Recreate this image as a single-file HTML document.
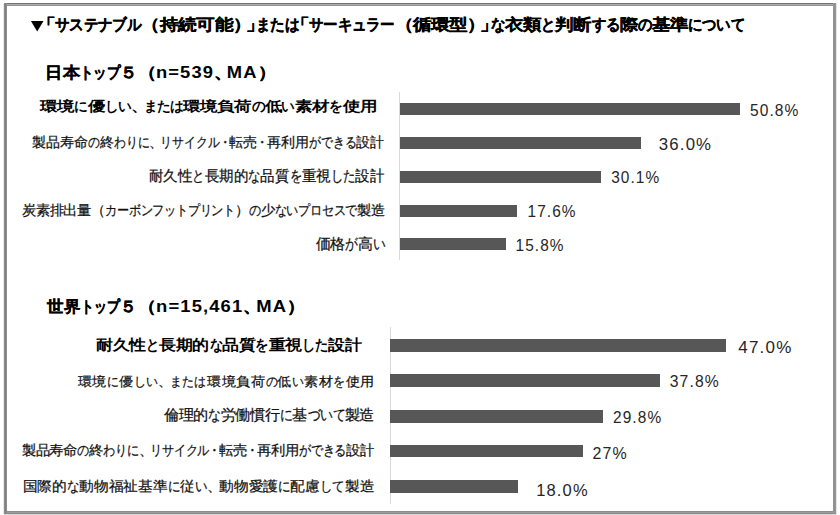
<!DOCTYPE html>
<html lang="ja">
<head>
<meta charset="utf-8">
<style>
html,body{margin:0;padding:0;background:#fff;}
body{width:840px;height:515px;overflow:hidden;position:relative;font-family:"Liberation Sans",sans-serif;}
.frame{position:absolute;left:4px;top:3px;width:832px;height:511px;box-sizing:border-box;border:3px solid #8e8e8e;}
.t{position:absolute;left:0;top:0;white-space:nowrap;line-height:1;transform-origin:0 0;}
.r{color:#111;-webkit-text-stroke:0.25px #111;}
.b{font-weight:bold;color:#000;}
#title_0,#title_1,#title_2,#h1_0,#h1_1,#h2_0,#h2_1{-webkit-text-stroke:0.3px #000;}
#h1_1 .l,#h2_1 .l{-webkit-text-stroke:0;letter-spacing:0.06em;}
.v{color:#262626;letter-spacing:0.07em;}
.k{display:inline-block;transform:scaleX(0.850);transform-origin:0 50%;}
.n{display:inline-block;}
.bar{position:absolute;background:#575757;}
.px{position:absolute;}
.ax{position:absolute;width:1px;background:#d9d9d9;}
svg{position:absolute;left:0;top:0;}
</style>
</head>
<body>
<div class="px" style="left:4px;top:3px;width:832px;height:1px;background:#727272"></div>
<div class="px" style="left:4px;top:4px;width:832px;height:1px;background:#afafaf"></div>
<div class="px" style="left:4px;top:5px;width:832px;height:1px;background:#919191"></div>
<div class="px" style="left:4px;top:511px;width:832px;height:1px;background:#8c8c8c"></div>
<div class="px" style="left:4px;top:512px;width:832px;height:1px;background:#9c9c9c"></div>
<div class="px" style="left:4px;top:513px;width:832px;height:1px;background:#8a8a8a"></div>
<div class="px" style="left:4px;top:514px;width:832px;height:1px;background:#d8d8d8"></div>
<div class="px" style="left:3px;top:4px;width:1px;height:510px;background:#e8e8e8"></div>
<div class="px" style="left:4px;top:3px;width:1px;height:511px;background:#8c8c8c"></div>
<div class="px" style="left:5px;top:3px;width:1px;height:511px;background:#808080"></div>
<div class="px" style="left:6px;top:3px;width:1px;height:511px;background:#8e8e8e"></div>
<div class="px" style="left:833px;top:3px;width:1px;height:511px;background:#979797"></div>
<div class="px" style="left:834px;top:3px;width:1px;height:511px;background:#8f8f8f"></div>
<div class="px" style="left:835px;top:3px;width:1px;height:511px;background:#979797"></div>
<div class="px" style="left:836px;top:3px;width:1px;height:512px;background:#e4e4e4"></div>
<svg width="840" height="515"><polygon points="30.9,20.9 43.5,20.9 37.2,31.5" fill="#000"/></svg>
<div class="ax" style="left:399px;top:92px;height:168px;"></div>
<div class="bar" style="left:400px;top:103px;width:340px;height:12px;"></div>
<div class="bar" style="left:400px;top:136.5px;width:241px;height:12px;"></div>
<div class="bar" style="left:400px;top:170.5px;width:201px;height:12px;"></div>
<div class="bar" style="left:400px;top:204.5px;width:117px;height:12px;"></div>
<div class="bar" style="left:400px;top:238px;width:105.5px;height:12px;"></div>
<div class="ax" style="left:390px;top:327px;height:177px;"></div>
<div class="bar" style="left:390px;top:339px;width:336px;height:13px;"></div>
<div class="bar" style="left:390px;top:374px;width:270px;height:13px;"></div>
<div class="bar" style="left:390px;top:410px;width:213px;height:13px;"></div>
<div class="bar" style="left:390px;top:445px;width:193px;height:12px;"></div>
<div class="bar" style="left:390px;top:480px;width:128px;height:13px;"></div>
<div class="t b" id="title_0" style="font-size:17px;transform:translate(45.44px,17.43px) scale(1.0794,0.9254);"><span class="n" style="margin-left:-7.65px">「</span><span class="k" style="margin-right:-22.44px;transform:scaleX(0.780)">サステナブル</span><span class="f">（</span><span class="j">持続可能</span><span class="n" style="margin-right:-5.10px">）</span><span class="n" style="margin-right:-7.65px">」</span><span class="k" style="margin-right:-11.22px;transform:scaleX(0.780)">または</span></div>
<div class="t b" id="title_1" style="font-size:17px;transform:translate(299.56px,17.43px) scale(1.0701,0.9254);"><span class="n" style="margin-left:-7.65px">「</span><span class="k" style="margin-right:-22.44px;transform:scaleX(0.780)">サーキュラー</span><span class="f">（</span><span class="j">循環型</span><span class="n" style="margin-right:-5.10px">）</span><span class="n" style="margin-right:-7.65px">」</span></div>
<div class="t b" id="title_2" style="font-size:17px;transform:translate(490.80px,17.43px) scale(1.0665,0.9254);"><span class="k" style="margin-right:-3.74px;transform:scaleX(0.780)">な</span><span class="j">衣類</span><span class="k" style="margin-right:-3.74px;transform:scaleX(0.780)">と</span><span class="j">判断</span><span class="k" style="margin-right:-7.48px;transform:scaleX(0.780)">する</span><span class="j">際</span><span class="k" style="margin-right:-3.74px;transform:scaleX(0.780)">の</span><span class="j">基準</span><span class="k" style="margin-right:-14.96px;transform:scaleX(0.780)">について</span></div>
<div class="t b" id="h1_0" style="font-size:17px;transform:translate(45.43px,65.10px) scale(1.0100,0.9397);"><span class="j">日本</span><span class="k" style="margin-right:-11.22px;transform:scaleX(0.780)">トップ</span><span class="f">５</span></div>
<div class="t b" id="h1_1" style="font-size:17px;transform:translate(137.67px,65.10px) scale(1.0788,0.9397);"><span class="f">（</span><span class="l">n=539</span><span class="n" style="margin-right:-5.10px">、</span><span class="l">MA</span><span class="f">）</span></div>
<div class="t b" id="h2_0" style="font-size:17px;transform:translate(47.25px,298.94px) scale(0.9891,0.9613);"><span class="j">世界</span><span class="k" style="margin-right:-11.22px;transform:scaleX(0.780)">トップ</span><span class="f">５</span></div>
<div class="t b" id="h2_1" style="font-size:17px;transform:translate(137.62px,298.94px) scale(1.0841,0.9613);"><span class="f">（</span><span class="l">n=15,461</span><span class="n" style="margin-right:-5.10px">、</span><span class="l">MA</span><span class="f">）</span></div>
<div class="t b" id="a1_0" style="font-size:15px;transform:translate(40.28px,98.71px) scale(1.1375,0.9115);"><span class="j">環境</span><span class="k" style="margin-right:-3.30px;transform:scaleX(0.780)">に</span><span class="j">優</span><span class="k" style="margin-right:-6.60px;transform:scaleX(0.780)">しい</span><span class="n" style="margin-right:-4.50px">、</span><span class="k" style="margin-right:-9.90px;transform:scaleX(0.780)">または</span><span class="j">環境負荷</span><span class="k" style="margin-right:-3.30px;transform:scaleX(0.780)">の</span><span class="j">低</span><span class="k" style="margin-right:-3.30px;transform:scaleX(0.780)">い</span><span class="j">素材</span><span class="k" style="margin-right:-3.30px;transform:scaleX(0.780)">を</span><span class="j">使用</span></div>
<div class="t r" id="a2_0" style="font-size:15px;transform:translate(31.87px,134.57px) scale(0.9307,0.9310);"><span class="j">製品寿命</span><span class="k" style="margin-right:-2.25px;transform:scaleX(0.850)">の</span><span class="j">終</span><span class="k" style="margin-right:-6.75px;transform:scaleX(0.850)">わりに</span><span class="n" style="margin-right:-3.00px">、</span><span class="k" style="margin-right:-11.25px;transform:scaleX(0.850)">リサイクル</span><span class="n" style="margin-left:-2.25px;margin-right:-2.25px">・</span><span class="j">転売</span><span class="n" style="margin-left:-2.25px;margin-right:-2.25px">・</span><span class="j">再利用</span><span class="k" style="margin-right:-9.00px;transform:scaleX(0.850)">ができる</span><span class="j">設計</span></div>
<div class="t r" id="a3_0" style="font-size:15px;transform:translate(148.88px,167.90px) scale(0.9662,1.0000);"><span class="j">耐久性</span><span class="k" style="margin-right:-2.25px;transform:scaleX(0.850)">と</span><span class="j">長期的</span><span class="k" style="margin-right:-2.25px;transform:scaleX(0.850)">な</span><span class="j">品質</span><span class="k" style="margin-right:-2.25px;transform:scaleX(0.850)">を</span><span class="j">重視</span><span class="k" style="margin-right:-4.50px;transform:scaleX(0.850)">した</span><span class="j">設計</span></div>
<div class="t r" id="a4_0" style="font-size:15px;transform:translate(21.80px,203.65px) scale(0.9259,0.9067);"><span class="j">炭素排出量</span><span class="f">（</span><span class="k" style="margin-right:-24.75px;transform:scaleX(0.850)">カーボンフットプリント</span><span class="f">）</span><span class="k" style="margin-right:-2.25px;transform:scaleX(0.850)">の</span><span class="j">少</span><span class="k" style="margin-right:-15.75px;transform:scaleX(0.850)">ないプロセスで</span><span class="j">製造</span></div>
<div class="t r" id="a5_0" style="font-size:15px;transform:translate(315.70px,236.15px) scale(0.9808,0.9825);"><span class="j">価格</span><span class="k" style="margin-right:-2.25px;transform:scaleX(0.850)">が</span><span class="j">高</span><span class="k" style="margin-right:-2.25px;transform:scaleX(0.850)">い</span></div>
<div class="t v" id="p1_0" style="font-size:15px;transform:translate(749.92px,102.53px) scale(1.0374,1.0476);"><span class="l">50.8%</span></div>
<div class="t v" id="p2_0" style="font-size:16px;transform:translate(658.81px,135.88px) scale(1.0474,1.0870);"><span class="l">36.0%</span></div>
<div class="t v" id="p3_0" style="font-size:15px;transform:translate(611.13px,168.97px) scale(1.0264,1.0857);"><span class="l">30.1%</span></div>
<div class="t v" id="p4_0" style="font-size:15px;transform:translate(527.52px,202.29px) scale(1.0267,1.1429);"><span class="l">17.6%</span></div>
<div class="t v" id="p5_0" style="font-size:15px;transform:translate(515.52px,236.86px) scale(1.0267,1.0952);"><span class="l">15.8%</span></div>
<div class="t b" id="c1_0" style="font-size:15px;transform:translate(95.84px,336.75px) scale(1.1146,0.9862);"><span class="j">耐久性</span><span class="k" style="margin-right:-3.30px;transform:scaleX(0.780)">と</span><span class="j">長期的</span><span class="k" style="margin-right:-3.30px;transform:scaleX(0.780)">な</span><span class="j">品質</span><span class="k" style="margin-right:-3.30px;transform:scaleX(0.780)">を</span><span class="j">重視</span><span class="k" style="margin-right:-6.60px;transform:scaleX(0.780)">した</span><span class="j">設計</span></div>
<div class="t r" id="c2_0" style="font-size:15px;transform:translate(77.90px,374.57px) scale(0.9674,0.8949);"><span class="j">環境</span><span class="k" style="margin-right:-2.25px;transform:scaleX(0.850)">に</span><span class="j">優</span><span class="k" style="margin-right:-4.50px;transform:scaleX(0.850)">しい</span><span class="n" style="margin-right:-3.00px">、</span><span class="k" style="margin-right:-6.75px;transform:scaleX(0.850)">または</span><span class="j">環境負荷</span><span class="k" style="margin-right:-2.25px;transform:scaleX(0.850)">の</span><span class="j">低</span><span class="k" style="margin-right:-2.25px;transform:scaleX(0.850)">い</span><span class="j">素材</span><span class="k" style="margin-right:-2.25px;transform:scaleX(0.850)">を</span><span class="j">使用</span></div>
<div class="t r" id="c3_0" style="font-size:15px;transform:translate(163.90px,407.44px) scale(0.9840,0.9754);"><span class="j">倫理的</span><span class="k" style="margin-right:-2.25px;transform:scaleX(0.850)">な</span><span class="j">労働慣行</span><span class="k" style="margin-right:-2.25px;transform:scaleX(0.850)">に</span><span class="j">基</span><span class="k" style="margin-right:-6.75px;transform:scaleX(0.850)">づいて</span><span class="j">製造</span></div>
<div class="t r" id="c4_0" style="font-size:15px;transform:translate(21.57px,443.36px) scale(0.9304,0.9103);"><span class="j">製品寿命</span><span class="k" style="margin-right:-2.25px;transform:scaleX(0.850)">の</span><span class="j">終</span><span class="k" style="margin-right:-6.75px;transform:scaleX(0.850)">わりに</span><span class="n" style="margin-right:-3.00px">、</span><span class="k" style="margin-right:-11.25px;transform:scaleX(0.850)">リサイクル</span><span class="n" style="margin-left:-2.25px;margin-right:-2.25px">・</span><span class="j">転売</span><span class="n" style="margin-left:-2.25px;margin-right:-2.25px">・</span><span class="j">再利用</span><span class="k" style="margin-right:-9.00px;transform:scaleX(0.850)">ができる</span><span class="j">設計</span></div>
<div class="t r" id="c5_0" style="font-size:15px;transform:translate(22.72px,478.83px) scale(0.9808,0.9333);"><span class="j">国際的</span><span class="k" style="margin-right:-2.25px;transform:scaleX(0.850)">な</span><span class="j">動物福祉基準</span><span class="k" style="margin-right:-2.25px;transform:scaleX(0.850)">に</span><span class="j">従</span><span class="k" style="margin-right:-2.25px;transform:scaleX(0.850)">い</span><span class="n" style="margin-right:-3.00px">、</span><span class="j">動物愛護</span><span class="k" style="margin-right:-2.25px;transform:scaleX(0.850)">に</span><span class="j">配慮</span><span class="k" style="margin-right:-4.50px;transform:scaleX(0.850)">して</span><span class="j">製造</span></div>
<div class="t v" id="q1_0" style="font-size:16px;transform:translate(738.27px,339.20px) scale(1.0646,1.0696);"><span class="l">47.0%</span></div>
<div class="t v" id="q2_0" style="font-size:16px;transform:translate(669.76px,373.72px) scale(0.9814,1.0348);"><span class="l">37.8%</span></div>
<div class="t v" id="q3_0" style="font-size:16px;transform:translate(613.08px,409.22px) scale(0.9629,1.0435);"><span class="l">29.8%</span></div>
<div class="t v" id="q4_0" style="font-size:16px;transform:translate(592.55px,445.20px) scale(0.9970,1.0667);"><span class="l">27%</span></div>
<div class="t v" id="q5_0" style="font-size:16px;transform:translate(536.21px,482.22px) scale(1.0312,1.0435);"><span class="l">18.0%</span></div>
<script>
(function(){var D={"title_0":[234.969,45.44,17.43,1.0794,0.9254,2.0],"title_1":[178.188,299.56,17.43,1.0701,0.9254,2.0],"title_2":[238.375,490.8,17.43,1.0665,0.9254,0.0],"h1_0":[90.781,45.43,65.1,1.01,0.9397,2.25],"h1_1":[128.172,137.67,65.1,1.0788,0.9397,10.5],"h2_0":[90.781,47.25,298.94,0.9891,0.9613,-0.25],"h2_1":[154.859,137.62,298.94,1.0841,0.9613,10.5],"a1_0":[295.828,40.28,98.71,1.1375,0.9115,-0.25],"a2_0":[378.75,31.87,134.57,0.9307,0.931,0.25],"a3_0":[243.75,148.88,167.9,0.9662,1.0,0.75],"a4_0":[392.25,21.8,203.65,0.9259,0.9067,0.0],"a5_0":[70.5,315.7,236.15,0.9808,0.9825,0.0],"p1_0":[47.797,749.92,102.53,1.0374,1.0476,0.75],"p2_0":[50.969,658.81,135.88,1.0474,1.087,0.75],"p3_0":[47.797,611.13,168.97,1.0264,1.0857,0.75],"p4_0":[47.797,527.52,202.29,1.0267,1.1429,1.25],"p5_0":[47.797,515.52,236.86,1.0267,1.0952,1.25],"c1_0":[238.516,95.84,336.75,1.1146,0.9862,0.5],"c2_0":[306.75,77.9,374.57,0.9674,0.8949,0.0],"c3_0":[213.75,163.9,407.44,0.984,0.9754,0.0],"c4_0":[378.75,21.57,443.36,0.9304,0.9103,0.25],"c5_0":[358.5,22.72,478.83,0.9808,0.9333,1.0],"q1_0":[50.969,738.27,339.2,1.0646,1.0696,0.5],"q2_0":[50.969,669.76,373.72,0.9814,1.0348,0.75],"q3_0":[50.969,613.08,409.22,0.9629,1.0435,0.75],"q4_0":[35.391,592.55,445.2,0.997,1.0667,0.75],"q5_0":[50.969,536.21,482.22,1.0312,1.0435,1.25]};
for(var id in D){var e=document.getElementById(id);if(!e)continue;var d=D[id];var t=e.style.transform;e.style.transform="none";var w=e.getBoundingClientRect().width;if(w>0&&Math.abs(w/d[0]-1)>0.01){var sx=d[3]*d[0]/w;var dx=d[1]+(d[3]-sx)*d[5];e.style.transform="translate("+dx.toFixed(2)+"px,"+d[2].toFixed(2)+"px) scale("+sx.toFixed(4)+","+d[4].toFixed(4)+")";}else e.style.transform=t;}})();
</script>
</body>
</html>
